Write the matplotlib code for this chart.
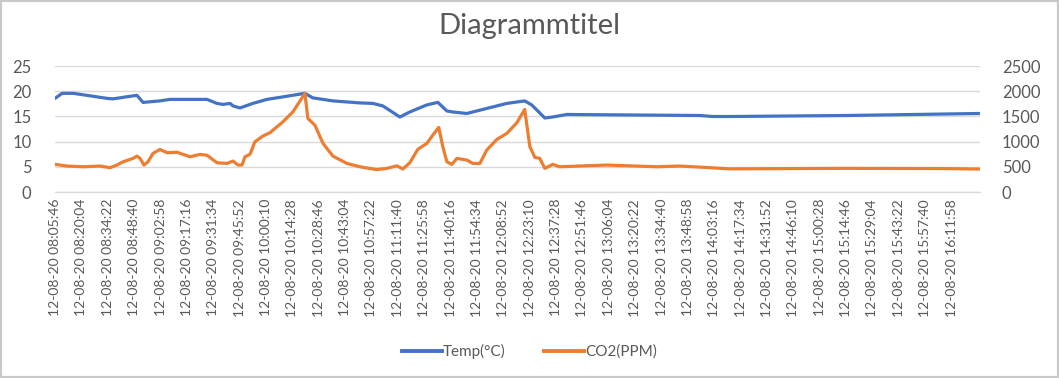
import matplotlib.pyplot as plt
from matplotlib.lines import Line2D
from matplotlib.patches import Rectangle
from datetime import datetime

# x tick labels (category axis of the original chart)
tick_labels = [
    "12-08-20 08:05:46", "12-08-20 08:20:04", "12-08-20 08:34:22", "12-08-20 08:48:40",
    "12-08-20 09:02:58", "12-08-20 09:17:16", "12-08-20 09:31:34", "12-08-20 09:45:52",
    "12-08-20 10:00:10", "12-08-20 10:14:28", "12-08-20 10:28:46", "12-08-20 10:43:04",
    "12-08-20 10:57:22", "12-08-20 11:11:40", "12-08-20 11:25:58", "12-08-20 11:40:16",
    "12-08-20 11:54:34", "12-08-20 12:08:52", "12-08-20 12:23:10", "12-08-20 12:37:28",
    "12-08-20 12:51:46", "12-08-20 13:06:04", "12-08-20 13:20:22", "12-08-20 13:34:40",
    "12-08-20 13:48:58", "12-08-20 14:03:16", "12-08-20 14:17:34", "12-08-20 14:31:52",
    "12-08-20 14:46:10", "12-08-20 15:00:28", "12-08-20 15:14:46", "12-08-20 15:29:04",
    "12-08-20 15:43:22", "12-08-20 15:57:40", "12-08-20 16:11:58",
]

# temperature readings: minutes after 08:05:46, degrees C
temp_minutes = [0, 3.8, 9.8, 17.3, 28.2, 31.4, 42.3, 44.4, 47.7, 56.9, 62.3, 82.4,
                87.8, 91.1, 94.9, 96.5, 100.3, 107.3, 114.9, 123.6, 135.5, 139.8,
                150.7, 165.3, 172.4, 177.8, 187.0, 192.4, 201.6, 207.6, 212.5, 215.7,
                223.3, 234.1, 245.0, 254.7, 258.5, 261.8, 265.6, 269.9, 277.5, 349.6,
                356.6, 365.9, 429.3, 483.5, 501.4]
temp_values = [18.6, 19.6, 19.6, 19.2, 18.6, 18.5, 19.1, 19.2, 17.8, 18.1, 18.4, 18.4,
               17.6, 17.4, 17.6, 17.1, 16.7, 17.6, 18.4, 18.9, 19.6, 18.7,
               18.1, 17.7, 17.6, 17.1, 14.9, 15.9, 17.3, 17.8, 16.1, 15.9,
               15.6, 16.6, 17.6, 18.1, 17.3, 16.1, 14.7, 14.9, 15.4, 15.2,
               15.0, 15.0, 15.2, 15.5, 15.6]

# CO2 readings: minutes after 08:05:46, ppm
co2_minutes = [0, 6.5, 15.2, 24.4, 29.8, 33.6, 36.9, 42.3, 44.4, 46.1, 48.2, 50.4,
               53.1, 56.9, 60.7, 66.1, 73.2, 78.6, 82.4, 87.8, 93.2, 96.5, 99.2,
               101.4, 103.0, 105.7, 108.4, 112.7, 116.5, 123.6, 129.0, 135.5, 137.1,
               140.9, 145.3, 150.7, 158.3, 165.3, 174.5, 180.0, 185.4, 188.6, 192.4,
               196.7, 201.6, 204.9, 208.1, 210.3, 212.5, 215.2, 217.9, 223.3, 226.6,
               230.4, 234.1, 239.6, 245.0, 250.4, 254.7, 257.5, 260.2, 262.9, 265.6,
               269.9, 273.7, 299.2, 326.3, 338.8, 349.6, 365.9, 429.3, 483.5, 501.4]
co2_values = [550, 516, 502, 516, 483, 536, 601, 668, 714, 668, 536, 601,
              767, 846, 780, 790, 701, 747, 730, 582, 568, 615, 536,
              536, 701, 747, 998, 1111, 1177, 1395, 1593, 1958, 1462,
              1329, 966, 714, 568, 502, 445, 470, 520, 456, 582,
              846, 966, 1131, 1283, 899, 601, 548, 668, 635, 568,
              568, 833, 1045, 1164, 1375, 1640, 899, 688, 668, 470,
              549, 502, 536, 502, 516, 495, 460, 470, 465, 456]

plt.rcParams['font.family'] = ['Lato', 'DejaVu Sans']
text_color = '#595959'
grid_color = '#d9d9d9'

start = datetime.strptime(tick_labels[0], "%d-%m-%y %H:%M:%S")
tick_pos = [(datetime.strptime(s, "%d-%m-%y %H:%M:%S") - start).total_seconds() / 60
            for s in tick_labels]

fig = plt.figure(figsize=(10.59, 3.78), dpi=100)
fig.patches.append(Rectangle((0, 0), 1, 1, transform=fig.transFigure, fill=False,
                             edgecolor='#c8c8c8', linewidth=3))

ax = fig.add_axes([0.052, 0.492, 0.873, 0.333])
ax2 = ax.twinx()

ax.plot(temp_minutes, temp_values, color='#4472C4', linewidth=2.3, solid_capstyle='round')
ax2.plot(co2_minutes, co2_values, color='#ED7D31', linewidth=2.3, solid_capstyle='round')

ax.set_xlim(0, 501.4)
ax.set_ylim(0, 25)
ax2.set_ylim(0, 2500)
ax.set_yticks([0, 5, 10, 15, 20, 25])
ax2.set_yticks([0, 500, 1000, 1500, 2000, 2500])

ax.set_xticks(tick_pos)
ax.set_xticklabels(tick_labels, rotation=90, color=text_color)
ax.yaxis.grid(True, color=grid_color, linewidth=1)
ax.set_axisbelow(True)

for a in (ax, ax2):
    for side in ('top', 'left', 'right'):
        a.spines[side].set_visible(False)
    a.spines['bottom'].set_color(grid_color)
    a.tick_params(length=0, labelsize=12, colors=text_color)
ax.tick_params(axis='y', pad=17)
ax2.tick_params(axis='y', pad=16)
ax.tick_params(axis='x', labelsize=10, pad=5)

fig.suptitle('Diagrammtitel', x=0.5, y=0.965, fontsize=21, color=text_color)

handles = [Line2D([], [], color='#4472C4', linewidth=2.8),
           Line2D([], [], color='#ED7D31', linewidth=2.8)]
fig.legend(handles, ['Temp(°C)', 'CO2(PPM)'], loc='center', bbox_to_anchor=(0.5, 0.07),
           ncol=2, frameon=False, fontsize=11, labelcolor=text_color,
           handlelength=2.6, handletextpad=0.1, columnspacing=2.5)

fig.savefig('out.png', dpi=100, facecolor='white')
